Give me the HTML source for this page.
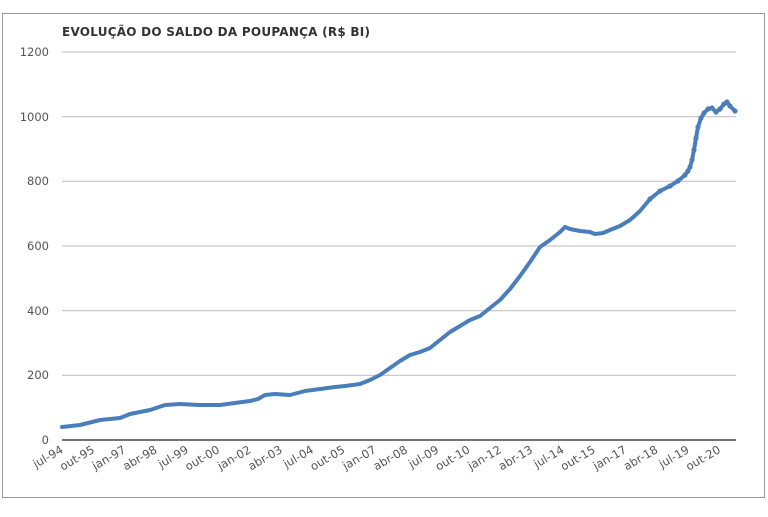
<!DOCTYPE html>
<html><head><meta charset="utf-8"><style>
body{margin:0;background:#fff;width:768px;height:512px;overflow:hidden}
svg text{font-family:"DejaVu Sans","Liberation Sans",sans-serif}
</style></head><body>
<svg width="768" height="512" viewBox="0 0 768 512" xmlns="http://www.w3.org/2000/svg">
<rect x="2.5" y="13.5" width="762" height="484" fill="#fff" stroke="#999" stroke-width="1"/>
<text x="62" y="36" font-size="12" font-weight="bold" fill="#333" letter-spacing="0.25">EVOLUÇÃO DO SALDO DA POUPANÇA (R$ BI)</text>
<g stroke="#bbb" stroke-width="1">
<line x1="62" x2="736" y1="52" y2="52"/><line x1="62" x2="736" y1="116.7" y2="116.7"/>
<line x1="62" x2="736" y1="181.3" y2="181.3"/><line x1="62" x2="736" y1="246" y2="246"/>
<line x1="62" x2="736" y1="310.7" y2="310.7"/><line x1="62" x2="736" y1="375.3" y2="375.3"/>
</g>
<line x1="62" x2="736" y1="440" y2="440" stroke="#222" stroke-width="1.3"/>
<g font-size="11.5" fill="#555" text-anchor="end">
<text x="49" y="56">1200</text><text x="49" y="121">1000</text><text x="49" y="185">800</text>
<text x="49" y="250">600</text><text x="49" y="315">400</text><text x="49" y="379">200</text><text x="49" y="444">0</text>
</g>
<g font-size="11.5" fill="#555" text-anchor="end" id="xl"></g>
<polyline id="ln" fill="none" stroke="#4a7ebb" stroke-width="4" stroke-linejoin="round" stroke-linecap="round"/>
<g id="dots" fill="#4a7ebb"></g>
</svg>
<script>
var labs=["jul-94","out-95","jan-97","abr-98","jul-99","out-00","jan-02","abr-03","jul-04","out-05","jan-07","abr-08","jul-09","out-10","jan-12","abr-13","jul-14","out-15","jan-17","abr-18","jul-19","out-20"];
var g=document.getElementById('xl'),h='';
labs.forEach(function(l,i){var x=64+31.3*i,y=452;h+='<text transform="translate('+x+','+y+') rotate(-30)">'+l+'</text>';});
g.innerHTML=h;
var p=[[62,427],[80,425],[100,420],[120,418],[130,414],[150,410],[165,405],[180,404],[200,405],[220,405],[250,401],[258,399],[265,395],[275,394],[290,395],[305,391],[320,389],[335,387],[345,386],[360,384],[370,380],[380,375],[390,368],[400,361],[410,355],[420,352],[430,348],[440,340],[450,332],[460,326],[470,320],[480,316],[490,308],[500,300],[510,289],[520,276],[530,262],[540,247],[550,240],[560,232],[565,227],[570,229],[580,231],[590,232],[595,234],[603,233],[610,230],[620,226],[630,220],[640,211],[650,199],[660,191],[670,186],[678,181],[685,175],[688,171],[690,167],[692,160],[694,150],[696,138],[698,127],[701,118],[704,113],[708,109],[712,108],[716,112],[720,109],[724,104],[727,102],[730,106],[735,111]];
document.getElementById('ln').setAttribute('points',p.map(function(a){return a.join(',')}).join(' '));
var d='';p.forEach(function(a){if(a[0]>640)d+='<circle cx="'+a[0]+'" cy="'+a[1]+'" r="2.6"/>';});
document.getElementById('dots').innerHTML=d;
</script>
</body></html>
